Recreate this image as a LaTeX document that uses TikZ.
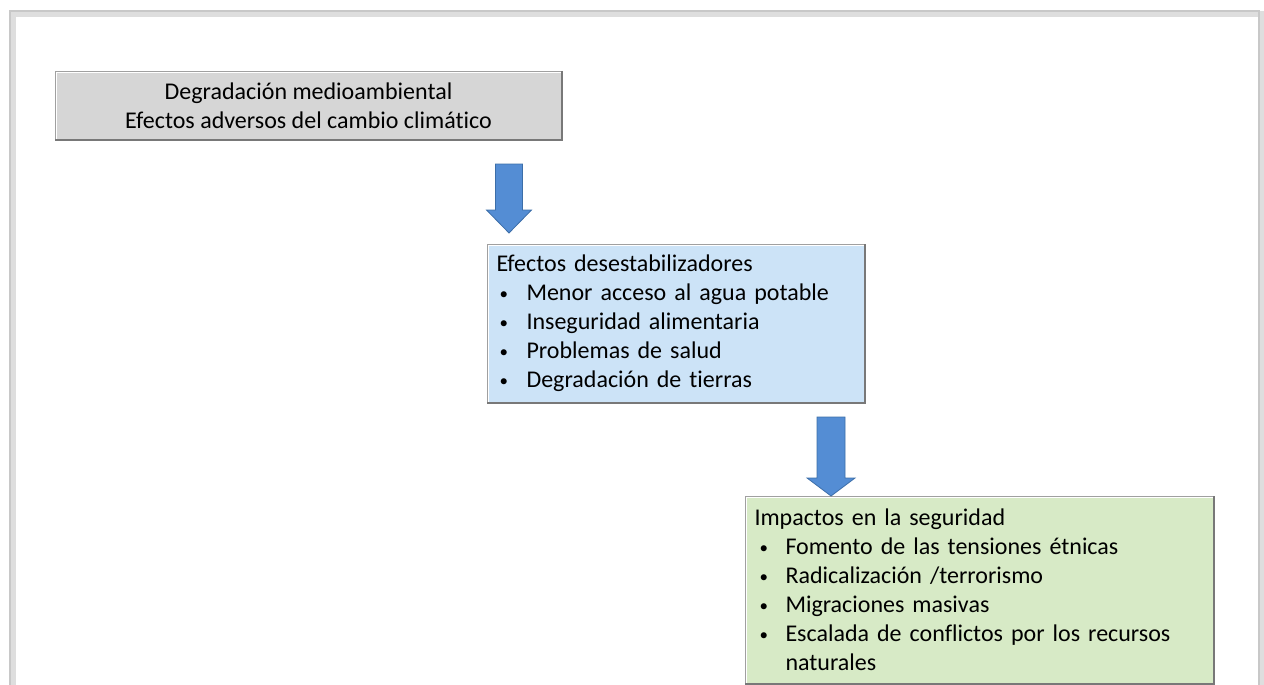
\documentclass[tikz,border=0pt]{standalone}
\usepackage{fontspec}
\setmainfont{Carlito}[Ligatures=NoCommon]
\usetikzlibrary{calc}
\definecolor{grayfill}{RGB}{214,214,214}
\definecolor{bluefill}{RGB}{204,227,247}
\definecolor{greenfill}{RGB}{215,234,198}
\definecolor{arrowfill}{RGB}{84,141,212}
\definecolor{arrowline}{RGB}{60,110,168}
\definecolor{edgedark}{RGB}{120,120,120}
\definecolor{framegray}{RGB}{200,200,200}
\newcommand{\blt}[1]{\hspace*{#1}\makebox[0pt][l]{\raisebox{1pt}{\fontsize{17}{17}\selectfont •}}}
\begin{document}
\begin{tikzpicture}[x=1pt,y=-1pt,
  box/.style={draw=edgedark!70, line width=1pt, inner sep=0pt, anchor=north west,
    font=\fontsize{24}{29}\selectfont},
  bigarrow/.style={fill=arrowfill, draw=arrowline, line width=0.8pt, line join=miter},
  bevel/.style={draw=edgedark, line width=1.6pt},
  bevellight/.style={draw=white!70, line width=1pt}]
\useasboundingbox (0,0) rectangle (1264,685);
% frame
\draw[framegray!60, line width=6pt] (13,700) -- (13,14) -- (1262,14) -- (1262,700);
\draw[framegray, line width=2pt] (10,700) -- (10,11) -- (1259,11) -- (1259,700);
% boxes
\node[box, fill=grayfill, minimum width=506, minimum height=68, align=center] (g) at (55,71)
  {Degradación medioambiental\\Efectos adversos del cambio climático};
\node[box, fill=bluefill, minimum width=377, minimum height=158, text width=359, align=left] (b) at (487,244)
  {Efectos desestabilizadores\\
   \blt{3pt}\hspace*{27pt}Menor acceso al agua potable\\
   \blt{3pt}\hspace*{27pt}Inseguridad alimentaria\\
   \blt{3pt}\hspace*{27pt}Problemas de salud\\
   \blt{3pt}\hspace*{27pt}Degradación de tierras};
\node[box, fill=greenfill, minimum width=468, minimum height=187, text width=450, align=left] (s) at (745,496)
  {Impactos en la seguridad\\
   \blt{5pt}\hspace*{26pt}Fomento de las tensiones étnicas\\
   \blt{5pt}\hspace*{26pt}Radicalización /terrorismo\\
   \blt{5pt}\hspace*{26pt}Migraciones masivas\\
   \blt{5pt}\hspace*{26pt}Escalada de conflictos por los recursos\\
   \hspace*{31pt}naturales};
% bevel edges
\foreach \n in {g,b,s}{
  \draw[bevellight] ($(\n.south west)+(1.5,-1.5)$) -- ($(\n.north west)+(1.5,1.5)$) -- ($(\n.north east)+(-1.5,1.5)$);
  \draw[bevel] (\n.north east) -- (\n.south east) -- (\n.south west);
}
% arrows
\coordinate (a1s) at ($(g.south west)+(454,24)$);
\coordinate (a1e) at ($(b.north west)+(22,-11)$);
\coordinate (a2s) at ($(b.south west)+(344,14)$);
\coordinate (a2e) at ($(s.north west)+(86,0)$);
\draw[bigarrow] let \p1=(a1s), \p2=(a1e) in
  (\x1-13.5pt,\y1) -- (\x1+13.5pt,\y1) -- (\x1+13.5pt,\y2+23pt) -- (\x1+22.5pt,\y2+23pt)
  -- (\x2,\y2) -- (\x1-22.5pt,\y2+23pt) -- (\x1-13.5pt,\y2+23pt) -- cycle;
\draw[bigarrow] let \p1=(a2s), \p2=(a2e) in
  (\x1-14pt,\y1) -- (\x1+14pt,\y1) -- (\x1+14pt,\y2+18pt) -- (\x1+24pt,\y2+18pt)
  -- (\x2,\y2) -- (\x1-24pt,\y2+18pt) -- (\x1-14pt,\y2+18pt) -- cycle;
\end{tikzpicture}
\end{document}
